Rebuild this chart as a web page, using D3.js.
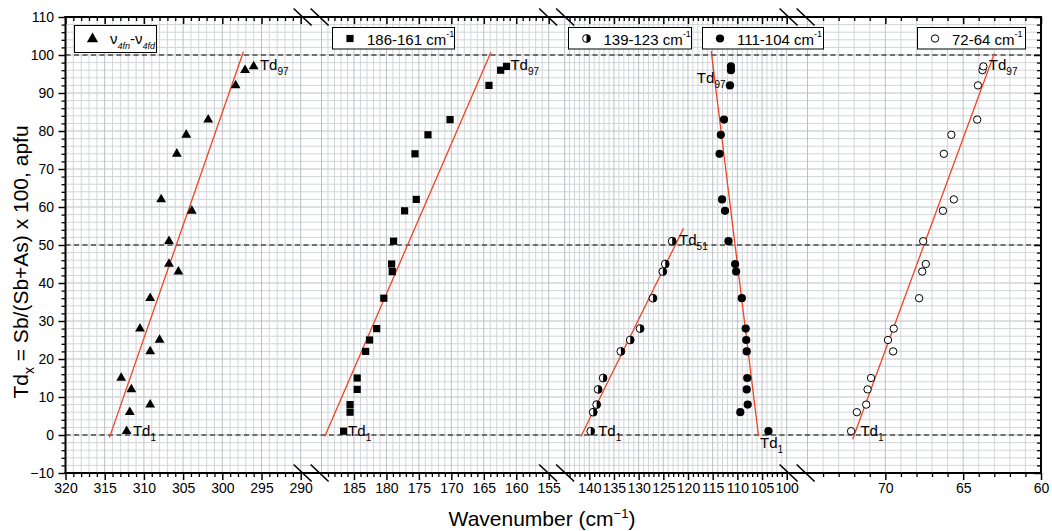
<!DOCTYPE html>
<html>
<head>
<meta charset="utf-8">
<script src="https://cdn.jsdelivr.net/npm/d3@7"></script>
<style>
  body { margin: 0; background: #fff; }
  svg { display: block; font-family: "Liberation Sans", Arial, Helvetica, sans-serif; }
</style>
</head>
<body>
<svg id="chart" width="1052" height="531"></svg>
<script>
// Td composition (Sb/(Sb+As) x 100) of each sample
const tdLevels = [1, 6, 8, 12, 15, 22, 25, 28, 36, 43, 45, 51, 59, 62, 74, 79, 83, 92, 96, 97];

// Band positions (cm-1) for each sample, in the same order as tdLevels
const nu4Split = [312.2, 311.8, 309.2, 311.6, 312.9, 309.2, 308.0, 310.5, 309.2, 305.6,
                  306.8, 306.8, 303.9, 307.8, 305.8, 304.6, 301.8, 298.3, 297.1, 296.0];
const band186 = [186.6, 185.6, 185.6, 184.5, 184.5, 183.2, 182.6, 181.5, 180.4, 179.1,
                 179.2, 178.9, 177.2, 175.4, 175.6, 173.6, 170.2, 164.2, 162.4, 161.5];
const band139 = [139.7, 139.2, 138.5, 138.2, 137.2, 133.6, 131.7, 129.7, 127.1, 125.1,
                 124.6, 123.2];
const band111 = [103.7, 109.4, 107.9, 108.1, 108.0, 108.1, 108.2, 108.3, 109.1, 110.25,
                 110.45, 111.8, 112.5, 113.1, 113.6, 113.35, 112.7, 111.5, 111.3, 111.3];
const band72 = [72.2, 71.83, 71.23, 71.14, 70.92, 69.5, 69.83, 69.46, 67.83, 67.63,
                67.4, 67.57, 66.3, 65.6, 66.24, 65.76, 64.1, 64.05, 63.76, 63.7];

// Linear fits, as [wavenumber, Td] end points
const fit1 = [[314.4, -0.7], [297.3, 100.9]];
const fit2 = [[189.5, -0.4], [163.9, 100.7]];
const fit3 = [[141.7, -0.4], [120.9, 54.4]];
const fit4 = [[105.7, -0.3], [115.3, 101.1]];
const fit5 = [[72.1, -1.1], [63.0, 100.4]];

// Broken x axis: wavenumber range of each panel
const segmentDomains = [[320, 290], [190, 155], [145, 100], [75, 60]];
const yTickValues = d3.range(-10, 111, 10);
const yMinorValues = d3.range(-10, 111, 2).filter(v => v % 10 !== 0);
const refLevels = [0, 50, 100];

// Td labels next to the end members: [wavenumber, Td, subscript]
const tdLabels = [
  [295.2, 96.0, "97"], [311.4, -0.3, "1"],
  [160.9, 96.0, "97"], [185.9, -0.3, "1"],
  [121.8, 50.0, "51"], [138.2, -0.3, "1"],
  [118.2, 92.6, "97"], [105.4, -3.4, "1"],
  [63.35, 96.0, "97"], [71.6, -0.3, "1"]
];

const legendLabels = ["186-161 cm", "139-123 cm", "111-104 cm", "72-64 cm"];

const svg = d3.select("#chart");
const plot = { left: 65.5, right: 1041, top: 17, bottom: 473 };
const segRanges = [[65.5, 300.7], [321.5, 548.7], [564.6, 786.7], [807.5, 1041]];

const y = d3.scaleLinear().domain([-10, 110]).range([plot.bottom, plot.top]);
const segScales = segmentDomains.map((d, i) => d3.scaleLinear().domain(d).range(segRanges[i]));
function segIndex(v) {
  return segmentDomains.findIndex(d => v <= d[0] && v >= d[1]);
}
function x(v) {
  return segScales[segIndex(v)](v);
}

const red = "#ee4424";
const gridMinor = "#d2d5d9";
const gridMajor = "#bcc0c5";

// ---- grid ----
const grid = svg.append("g");
grid.selectAll("line.h").data(d3.range(-10, 111, 2)).join("line")
  .attr("x1", plot.left).attr("x2", plot.right)
  .attr("y1", d => y(d)).attr("y2", d => y(d))
  .attr("stroke", d => d % 10 === 0 ? gridMajor : gridMinor).attr("stroke-width", 1);
segmentDomains.forEach((d, i) => {
  const vals = d3.range(d[1], d[0] + 0.001, 1);
  grid.append("g").selectAll("line").data(vals).join("line")
    .attr("x1", v => segScales[i](v)).attr("x2", v => segScales[i](v))
    .attr("y1", plot.top).attr("y2", plot.bottom)
    .attr("stroke", v => v % 5 === 0 ? gridMajor : gridMinor).attr("stroke-width", 1);
});

// ---- reference levels ----
svg.append("g").selectAll("line").data(refLevels).join("line")
  .attr("x1", plot.left).attr("x2", plot.right)
  .attr("y1", d => y(d)).attr("y2", d => y(d))
  .attr("stroke", "#000").attr("stroke-width", 1.1).attr("stroke-dasharray", "5,3.5");

// ---- fits ----
const line = d3.line().x(d => x(d[0])).y(d => y(d[1]));
svg.append("g").selectAll("path").data([fit1, fit2, fit3, fit4, fit5]).join("path")
  .attr("d", line).attr("fill", "none").attr("stroke", red).attr("stroke-width", 1.3);

// ---- markers ----
function pairs(xs) { return xs.map((v, i) => [v, tdLevels[i]]); }
const tri = d3.symbol().type(d3.symbolTriangle).size(42);
const sq = d3.symbol().type(d3.symbolSquare).size(52);

svg.append("g").selectAll("path").data(pairs(nu4Split)).join("path")
  .attr("transform", d => `translate(${x(d[0])},${y(d[1])})`)
  .attr("d", tri).attr("fill", "#000");

svg.append("g").selectAll("path").data(pairs(band186)).join("path")
  .attr("transform", d => `translate(${x(d[0])},${y(d[1])})`)
  .attr("d", sq).attr("fill", "#000");

function halfCircle(g, r) {
  g.append("circle").attr("r", r).attr("fill", "#fff").attr("stroke", "#000").attr("stroke-width", 1);
  g.append("path").attr("d", `M0,${-r}A${r},${r} 0 0 1 0,${r}Z`).attr("fill", "#000");
}
svg.append("g").selectAll("g").data(pairs(band139)).join("g")
  .attr("transform", d => `translate(${x(d[0])},${y(d[1])})`)
  .each(function () { halfCircle(d3.select(this), 3.9); });

svg.append("g").selectAll("circle").data(pairs(band111)).join("circle")
  .attr("cx", d => x(d[0])).attr("cy", d => y(d[1])).attr("r", 4.1).attr("fill", "#000");

svg.append("g").selectAll("circle").data(pairs(band72)).join("circle")
  .attr("cx", d => x(d[0])).attr("cy", d => y(d[1])).attr("r", 3.7)
  .attr("fill", "#fff").attr("stroke", "#000").attr("stroke-width", 1);

// ---- axes ----
function styleAxis(g, width) {
  g.select(".domain").remove();
  g.selectAll(".tick line").attr("stroke", "#000").attr("stroke-width", width);
  g.selectAll(".tick text").attr("font-size", 14).attr("fill", "#000")
    .attr("font-family", "'Liberation Sans', Arial, sans-serif");
}
segmentDomains.forEach((d, i) => {
  const s = segScales[i];
  const start = i === 0 ? d[0] + 1 : d[0];
  const all = d3.range(d[1], start, 1);
  const majors = all.filter(v => v % 5 === 0);
  const minors = all.filter(v => v % 5 !== 0);
  // bottom: outward ticks with labels
  svg.append("g").attr("transform", `translate(0,${plot.bottom})`)
    .call(d3.axisBottom(s).tickValues(majors).tickSize(7).tickSizeOuter(0).tickFormat(d3.format("d")))
    .call(g => styleAxis(g, 1.5));
  svg.append("g").attr("transform", `translate(0,${plot.bottom})`)
    .call(d3.axisBottom(s).tickValues(minors).tickSize(4).tickFormat(""))
    .call(g => styleAxis(g, 1.3));
  // top: inward ticks
  svg.append("g").attr("transform", `translate(0,${plot.top})`)
    .call(d3.axisBottom(s).tickValues(majors).tickSize(7).tickFormat(""))
    .call(g => styleAxis(g, 1.5));
  svg.append("g").attr("transform", `translate(0,${plot.top})`)
    .call(d3.axisBottom(s).tickValues(minors).tickSize(4).tickFormat(""))
    .call(g => styleAxis(g, 1.3));
});

svg.append("g").attr("transform", `translate(${plot.left},0)`)
  .call(d3.axisLeft(y).tickValues(yTickValues).tickSize(7).tickPadding(4.5))
  .call(g => styleAxis(g, 1.5));
svg.append("g").attr("transform", `translate(${plot.left},0)`)
  .call(d3.axisLeft(y).tickValues(yMinorValues).tickSize(4).tickFormat(""))
  .call(g => styleAxis(g, 1.3));
svg.append("g").attr("transform", `translate(${plot.right},0)`)
  .call(d3.axisLeft(y).tickValues(yTickValues).tickSize(7).tickFormat(""))
  .call(g => styleAxis(g, 1.5));
svg.append("g").attr("transform", `translate(${plot.right},0)`)
  .call(d3.axisLeft(y).tickValues(yMinorValues).tickSize(4).tickFormat(""))
  .call(g => styleAxis(g, 1.3));

// frame lines
const frame = svg.append("g").attr("stroke", "#000").attr("stroke-width", 2).attr("stroke-linecap", "square");
frame.append("line").attr("x1", plot.left).attr("x2", plot.right).attr("y1", plot.bottom).attr("y2", plot.bottom);
frame.append("line").attr("x1", plot.left).attr("x2", plot.right).attr("y1", plot.top).attr("y2", plot.top);
frame.append("line").attr("x1", plot.left).attr("x2", plot.left).attr("y1", plot.top).attr("y2", plot.bottom);
frame.append("line").attr("x1", plot.right).attr("x2", plot.right).attr("y1", plot.top).attr("y2", plot.bottom);

// break marks
const breaks = segRanges.slice(1).map((r, i) => (segRanges[i][1] + r[0]) / 2);
const marks = svg.append("g").attr("stroke", "#000").attr("stroke-width", 1.6);
breaks.forEach(g => {
  [g - 8.5, g + 8.5].forEach(cx => {
    [plot.top, plot.bottom].forEach(cy => {
      marks.append("line").attr("x1", cx - 9).attr("y1", cy - 8.5).attr("x2", cx + 9).attr("y2", cy + 8.5);
    });
  });
});

// ---- axis titles ----
const xt = svg.append("text").attr("x", 542).attr("y", 526).attr("text-anchor", "middle")
  .attr("font-size", 21).attr("fill", "#000");
xt.append("tspan").text("Wavenumber (cm");
xt.append("tspan").attr("font-size", 13).attr("dy", -8).text("\u22121");
xt.append("tspan").attr("dy", 8).text(")");

const yt = svg.append("text").attr("transform", "translate(28,262) rotate(-90)")
  .attr("text-anchor", "middle").attr("font-size", 21).attr("fill", "#000");
yt.append("tspan").text("Td");
yt.append("tspan").attr("font-size", 14).attr("dy", 6).text("x");
yt.append("tspan").attr("dy", -6).text(" = Sb/(Sb+As) x 100, apfu");

// ---- Td labels ----
const lab = svg.append("g").attr("font-size", 15).attr("fill", "#000");
tdLabels.forEach(([wv, td, sub]) => {
  const t = lab.append("text").attr("x", x(wv)).attr("y", y(td));
  t.append("tspan").text("Td");
  t.append("tspan").attr("font-size", 10).attr("dy", 5).text(sub);
});

// ---- legends ----
function legendBox(x0, y0, w, h) {
  const g = svg.append("g");
  g.append("rect").attr("x", x0).attr("y", y0).attr("width", w).attr("height", h)
    .attr("fill", "#fff").attr("stroke", "#000").attr("stroke-width", 1);
  return g;
}
// triangles
{
  const g = legendBox(74.5, 25.5, 82, 27);
  g.append("path").attr("transform", "translate(92.5,39)")
    .attr("d", d3.symbol().type(d3.symbolTriangle).size(55)).attr("fill", "#000");
  const t = g.append("text").attr("x", 110).attr("y", 44).attr("font-size", 15).attr("fill", "#000");
  t.append("tspan").text("\u03bd");
  t.append("tspan").attr("font-size", 9).attr("font-style", "italic").attr("dy", 5).text("4fn");
  t.append("tspan").attr("dy", -5).text("-\u03bd");
  t.append("tspan").attr("font-size", 9).attr("font-style", "italic").attr("dy", 5).text("4fd");
}
const boxes = [
  { x0: 332.5, w: 122, sx: 350 },
  { x0: 568.5, w: 123, sx: 586.5 },
  { x0: 702.5, w: 121, sx: 720 },
  { x0: 917.5, w: 108, sx: 935 }
];
boxes.forEach((b, i) => {
  const g = legendBox(b.x0, 27.5, b.w, 21.5);
  const sy = 38.5;
  if (i === 0) g.append("path").attr("transform", `translate(${b.sx},${sy})`).attr("d", sq).attr("fill", "#000");
  if (i === 1) halfCircle(g.append("g").attr("transform", `translate(${b.sx},${sy})`), 3.9);
  if (i === 2) g.append("circle").attr("cx", b.sx).attr("cy", sy).attr("r", 4.1).attr("fill", "#000");
  if (i === 3) g.append("circle").attr("cx", b.sx).attr("cy", sy).attr("r", 3.7)
    .attr("fill", "#fff").attr("stroke", "#000");
  const t = g.append("text").attr("x", b.sx + 17).attr("y", 44.5).attr("font-size", 15).attr("fill", "#000");
  t.append("tspan").text(legendLabels[i]);
  t.append("tspan").attr("font-size", 9).attr("dy", -8).text("-1");
});
</script>
</body>
</html>
